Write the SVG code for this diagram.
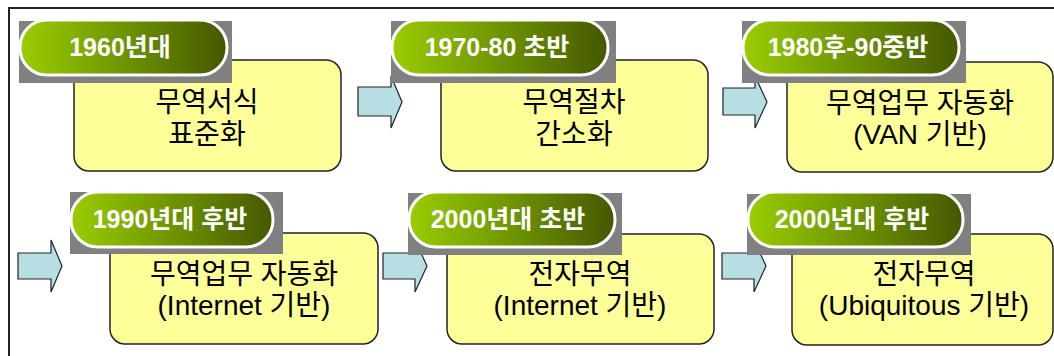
<svg xmlns="http://www.w3.org/2000/svg" width="1054" height="356" viewBox="0 0 1054 356">
<defs>
<linearGradient id="pg" x1="0" y1="0" x2="1" y2="0">
<stop offset="0" stop-color="#9ACD00"/>
<stop offset="0.5" stop-color="#6E9400"/>
<stop offset="1" stop-color="#445800"/>
</linearGradient>
</defs>
<style>
.frame{fill:#fff;stroke:#222;stroke-width:2}
.box{fill:#FFFF99;stroke:#222;stroke-width:1.5}
.shadow{fill:#808080}
.pill{fill:url(#pg);stroke:#fff;stroke-width:3}
.lbl{font-family:"Liberation Sans","Noto Sans CJK KR",sans-serif;font-weight:bold;font-size:25px;fill:#fff;text-anchor:middle}
.txt{font-family:"Liberation Sans","Noto Sans CJK KR",sans-serif;font-size:28px;fill:#000;text-anchor:middle}
.arr{fill:#B7DEE3;stroke:#222;stroke-width:1.2}
</style>
<rect class="frame" x="9" y="8" width="1100" height="400"/>
<g id="connectors">
<polygon class="arr" points="358,87 391,87 391,76 402,102 391,128 391,116 358,116"/>
<polygon class="arr" points="723,88 755,88 755,76 767,102 755,128 755,115 723,115"/>
<polygon class="arr" points="18,253 51,253 51,240 62,266 51,292 51,279 18,279"/>
<polygon class="arr" points="383,253 415,253 415,240 427,266 415,292 415,279 383,279"/>
<polygon class="arr" points="722,253 754,253 754,240 766,266 754,292 754,279 722,279"/>
</g>
<g id="n1">
<rect class="box" x="74" y="60" width="267" height="111" rx="15"/>
<rect class="shadow" x="19" y="21" width="213" height="62"/>
<rect class="pill" x="20" y="20" width="207" height="55" rx="27"/>
<text class="lbl" x="120" y="56">1960년대</text>
<text class="txt" x="207" y="112">무역서식</text>
<text class="txt" x="207" y="144">표준화</text>
</g>
<g id="n2">
<rect class="box" x="441" y="60" width="267" height="111" rx="15"/>
<rect class="shadow" x="391" y="21" width="225" height="62"/>
<rect class="pill" x="392" y="20" width="216" height="55" rx="27"/>
<text class="lbl" x="497" y="56">1970-80 초반</text>
<text class="txt" x="574" y="112">무역절차</text>
<text class="txt" x="574" y="144">간소화</text>
</g>
<g id="n3">
<rect class="box" x="787" y="62" width="266" height="110" rx="15"/>
<rect class="shadow" x="742" y="21" width="224" height="62"/>
<rect class="pill" x="743" y="20" width="216" height="55" rx="27"/>
<text class="lbl" x="848" y="56">1980후-90중반</text>
<text class="txt" x="920" y="113">무역업무 자동화</text>
<text class="txt" x="920" y="144">(VAN 기반)</text>
</g>
<g id="n4">
<rect class="box" x="110" y="233" width="268" height="111" rx="15"/>
<rect class="shadow" x="70" y="192" width="213" height="62"/>
<rect class="pill" x="71" y="192" width="202" height="55" rx="27"/>
<text class="lbl" x="170" y="228">1990년대 후반</text>
<text class="txt" x="244" y="284">무역업무 자동화</text>
<text class="txt" x="244" y="315">(Internet 기반)</text>
</g>
<g id="n5">
<rect class="box" x="447" y="234" width="267" height="110" rx="15"/>
<rect class="shadow" x="408" y="193" width="214" height="62"/>
<rect class="pill" x="409" y="192" width="206" height="55" rx="27"/>
<text class="lbl" x="508" y="228">2000년대 초반</text>
<text class="txt" x="580" y="284">전자무역</text>
<text class="txt" x="580" y="315">(Internet 기반)</text>
</g>
<g id="n6">
<rect class="box" x="792" y="234" width="261" height="111" rx="15"/>
<rect class="shadow" x="747" y="194" width="224" height="61"/>
<rect class="pill" x="748" y="192" width="215" height="55" rx="27"/>
<text class="lbl" x="852" y="228">2000년대 후반</text>
<text class="txt" x="924" y="284">전자무역</text>
<text class="txt" x="924" y="315">(Ubiquitous 기반)</text>
</g>
</svg>
